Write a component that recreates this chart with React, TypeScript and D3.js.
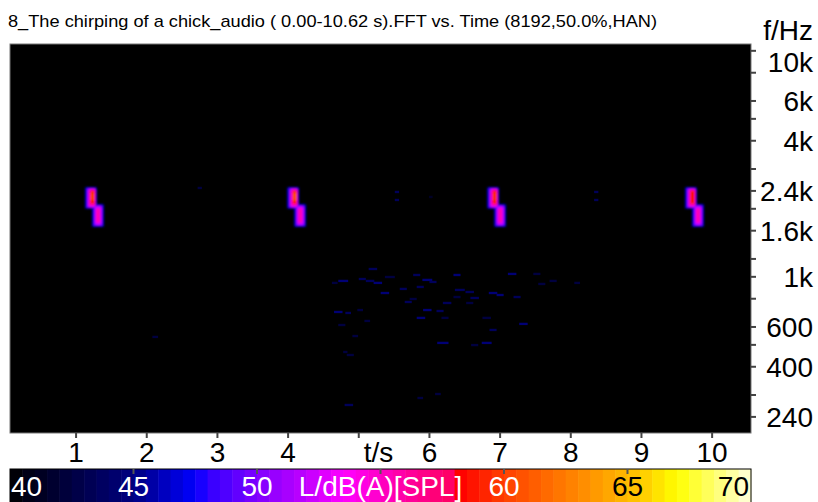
import React, { useEffect, useRef } from 'react';
import * as d3 from 'd3';

const title = '8_The chirping of a chick_audio ( 0.00-10.62 s).FFT vs. Time (8192,50.0%,HAN)';

const timeTicks = [1, 2, 3, 4, 5, 6, 7, 8, 9, 10];
const timeLabels = ['1', '2', '3', '4', 't/s', '6', '7', '8', '9', '10'];

const freqTicks = [10000, 8000, 6000, 5000, 4000, 3000, 2400, 2000, 1600, 1200, 1000, 800, 600, 500, 400, 300, 240];
const freqLabelValues = [10000, 6000, 4000, 2400, 1600, 1000, 600, 400, 240];
const freqLabels = ['10k', '6k', '4k', '2.4k', '1.6k', '1k', '600', '400', '240'];

const levelTicks = [40, 45, 50, 55, 60, 65, 70];
const levelLabels = ['40', '45', '50', 'L/dB(A)[SPL]', '60', '65', '70'];

// colour map of the level scale
const cmapLevels = [40, 40.6, 45, 47.5, 48, 50, 52, 53.5, 56, 58, 58.2, 60, 62, 64, 65.5, 67, 69, 70];
const cmapColors = ['#000000', '#000012', '#000080', '#0000ff', '#3000ff', '#8000ff', '#c000ff', '#ff00ff',
  '#ff00a0', '#ff0060', '#ff0000', '#ff4000', '#ff7000', '#ffa000', '#ffc800', '#ffff00', '#ffff90', '#ffffe0'];

// chirps: start time (s) and peak level (dB)
const chirpStarts = [1.14, 4.0, 6.83, 9.63];
const chirpPeaks = [60, 61, 59.5, 58.5];
// one chirp: [dt start, dt end, f low, f high, level], level null = peak
const chirpShape: [number, number, number, number, number | null][] = [
  [-0.014, 0.156, 2000, 2495, 46.5],
  [0.085, 0.255, 1660, 2100, 46.5],
  [0.007, 0.14, 2020, 2475, 48.5],
  [0.106, 0.233, 1680, 2070, 48.5],
  [0.028, 0.134, 2030, 2455, 52.5],
  [0.127, 0.22, 1700, 2055, 52.5],
  [0.045, 0.13, 2060, 2440, 55.5],
  [0.145, 0.2, 1740, 2010, 55.5],
  [0.062, 0.125, 2100, 2410, 58.5],
  [0.074, 0.116, 2170, 2370, null],
];

// faint background noise: [t centre, f, duration, level]
const noise = [
  [5.2, 1083, 0.12, 44], [4.78, 959, 0.14, 45], [5.05, 978, 0.1, 44], [5.16, 959, 0.12, 44],
  [5.27, 940, 0.12, 45], [5.44, 998, 0.14, 43], [5.82, 1019, 0.1, 44], [5.97, 969, 0.14, 45],
  [6.05, 949, 0.1, 44], [6.39, 1019, 0.1, 45], [7.17, 1030, 0.12, 45], [7.52, 1030, 0.1, 43],
  [7.75, 959, 0.1, 43], [5.37, 848, 0.12, 45], [5.63, 884, 0.1, 44], [5.87, 902, 0.1, 44],
  [6.43, 875, 0.14, 44], [6.57, 857, 0.12, 44], [6.9, 848, 0.12, 45], [7.0, 831, 0.1, 45],
  [7.24, 814, 0.1, 44], [5.7, 774, 0.1, 44], [5.77, 798, 0.1, 43], [6.25, 766, 0.12, 44],
  [6.39, 814, 0.1, 43], [6.57, 766, 0.1, 43], [6.64, 806, 0.12, 44], [4.71, 699, 0.12, 45],
  [4.85, 692, 0.08, 44], [5.97, 713, 0.12, 45], [6.15, 706, 0.1, 44], [5.02, 713, 0.08, 43],
  [5.88, 658, 0.12, 45], [6.22, 658, 0.1, 43], [6.81, 658, 0.12, 43], [7.33, 619, 0.12, 45],
  [6.9, 582, 0.1, 44], [4.76, 612, 0.1, 43], [5.12, 638, 0.08, 43], [4.95, 547, 0.08, 43],
  [6.19, 510, 0.16, 45], [6.81, 510, 0.14, 45], [4.88, 451, 0.1, 43], [6.64, 499, 0.1, 43],
  [4.86, 271, 0.12, 44], [6.12, 303, 0.08, 43], [5.87, 291, 0.08, 43], [4.66, 940, 0.08, 43],
  [8.09, 940, 0.08, 43], [7.59, 930, 0.1, 43], [2.12, 542, 0.08, 43], [4.81, 465, 0.06, 43],
  [2.75, 2473, 0.06, 43], [5.54, 2374, 0.06, 44], [5.54, 2188, 0.06, 44], [6.02, 2256, 0.05, 42],
  [8.36, 2374, 0.06, 44], [8.36, 2188, 0.06, 44],
];

const font = 'Liberation Sans, Arial, sans-serif';

export default function App() {
  const ref = useRef<SVGSVGElement>(null);

  useEffect(() => {
    const svg = d3.select(ref.current);
    svg.selectAll('*').remove();

    const width = 818;
    const height = 502;
    const plot = { left: 10, right: 751, top: 44, bottom: 433 };

    const x = d3.scaleLinear().domain([0.065, 10.55]).range([plot.left, plot.right]);
    const y = d3.scaleLog().domain([203.7, 10720]).range([plot.bottom, plot.top]);
    const lx = d3.scaleLinear().domain([40, 70]).range([plot.left, plot.right]);
    const color = d3.scaleLinear<string>().domain(cmapLevels).range(cmapColors)
      .interpolate(d3.interpolateRgb).clamp(true);

    svg.attr('width', width).attr('height', height);

    const defs = svg.append('defs');
    defs.append('filter').attr('id', 'blurA').attr('x', '-50%').attr('y', '-50%')
      .attr('width', '200%').attr('height', '200%')
      .append('feGaussianBlur').attr('stdDeviation', 0.8);
    defs.append('filter').attr('id', 'blurB').attr('x', '-50%').attr('y', '-50%')
      .attr('width', '200%').attr('height', '200%')
      .append('feGaussianBlur').attr('stdDeviation', 0.7);
    defs.append('clipPath').attr('id', 'plotClip').append('rect')
      .attr('x', plot.left).attr('y', plot.top)
      .attr('width', plot.right - plot.left).attr('height', plot.bottom - plot.top);

    svg.append('rect').attr('width', width).attr('height', height).attr('fill', '#fff');

    // title
    svg.append('text').attr('x', 8).attr('y', 27)
      .attr('font-family', font).attr('font-size', 17)
      .attr('textLength', 649).attr('lengthAdjust', 'spacingAndGlyphs')
      .text(title);

    // spectrogram background
    svg.append('rect')
      .attr('x', plot.left).attr('y', plot.top)
      .attr('width', plot.right - plot.left).attr('height', plot.bottom - plot.top)
      .attr('fill', '#000');

    const spec = svg.append('g').attr('clip-path', 'url(#plotClip)');

    spec.append('g').attr('filter', 'url(#blurB)')
      .selectAll('rect')
      .data(noise)
      .join('rect')
      .attr('x', (d) => x(d[0] - d[2] / 2))
      .attr('width', (d) => x(d[0] + d[2] / 2) - x(d[0] - d[2] / 2))
      .attr('y', (d) => y(d[1] * 1.012))
      .attr('height', (d) => y(d[1] / 1.012) - y(d[1] * 1.012))
      .attr('fill', (d) => color(d[3] - 0.5));

    const cells = chirpStarts.flatMap((t0, i) =>
      chirpShape.map((c) => ({ t0: t0 + c[0], t1: t0 + c[1], f0: c[2], f1: c[3], level: c[4] ?? chirpPeaks[i] })));

    spec.append('g').attr('filter', 'url(#blurA)')
      .selectAll('rect')
      .data(cells)
      .join('rect')
      .attr('x', (d) => x(d.t0))
      .attr('width', (d) => x(d.t1) - x(d.t0))
      .attr('y', (d) => y(d.f1))
      .attr('height', (d) => y(d.f0) - y(d.f1))
      .attr('rx', 1.5)
      .attr('fill', (d) => color(d.level));

    svg.append('rect')
      .attr('x', plot.left).attr('y', plot.top)
      .attr('width', plot.right - plot.left).attr('height', plot.bottom - plot.top)
      .attr('fill', 'none').attr('stroke', '#777').attr('stroke-width', 1);

    // frequency axis (right)
    svg.append('g').selectAll('line')
      .data(freqTicks)
      .join('line')
      .attr('x1', plot.right).attr('x2', plot.right + 5)
      .attr('y1', (d) => y(d)).attr('y2', (d) => y(d))
      .attr('stroke', '#444').attr('stroke-width', 2);

    svg.append('g').selectAll('text')
      .data(freqLabelValues)
      .join('text')
      .attr('x', 813)
      .attr('y', (d) => Math.max(y(d) + 10, 72))
      .attr('text-anchor', 'end')
      .attr('font-family', font).attr('font-size', 28)
      .text((d, i) => freqLabels[i]);

    svg.append('text').attr('x', 813).attr('y', 40)
      .attr('text-anchor', 'end')
      .attr('font-family', font).attr('font-size', 28)
      .text('f/Hz');

    // time axis (bottom)
    svg.append('g').selectAll('line')
      .data(timeTicks)
      .join('line')
      .attr('x1', (d) => x(d)).attr('x2', (d) => x(d))
      .attr('y1', plot.bottom).attr('y2', plot.bottom + 5)
      .attr('stroke', '#444').attr('stroke-width', 2);

    svg.append('g').selectAll('text')
      .data(timeTicks)
      .join('text')
      .attr('x', (d, i) => (timeLabels[i] === 't/s' ? x(d) + 5 : x(d)))
      .attr('y', 462)
      .attr('text-anchor', (d, i) => (timeLabels[i] === 't/s' ? 'start' : 'middle'))
      .attr('font-family', font).attr('font-size', 28)
      .text((d, i) => timeLabels[i]);

    // colour bar
    const cbTop = 469;
    const bands = d3.range(40, 70, 0.5);
    svg.append('g').selectAll('rect')
      .data(bands)
      .join('rect')
      .attr('x', (d) => lx(d))
      .attr('width', (d) => lx(d + 0.5) - lx(d) + 0.5)
      .attr('y', cbTop)
      .attr('height', height - cbTop + 2)
      .attr('fill', (d) => color(d + 0.25));

    svg.append('rect')
      .attr('x', lx(40)).attr('y', cbTop)
      .attr('width', lx(70) - lx(40)).attr('height', height - cbTop + 2)
      .attr('fill', 'none').attr('stroke', '#000').attr('stroke-width', 1);

    svg.append('g').selectAll('line')
      .data(levelTicks.slice(1, -1))
      .join('line')
      .attr('x1', (d) => lx(d)).attr('x2', (d) => lx(d))
      .attr('y1', cbTop).attr('y2', cbTop + 5)
      .attr('stroke', '#555').attr('stroke-width', 2);

    svg.append('g').selectAll('text')
      .data(levelTicks)
      .join('text')
      .attr('x', (d, i) => (i === 0 ? lx(d) + 1 : i === levelTicks.length - 1 ? lx(d) - 2 : lx(d)))
      .attr('y', 496)
      .attr('text-anchor', (d, i) => (i === 0 ? 'start' : i === levelTicks.length - 1 ? 'end' : 'middle'))
      .attr('font-family', font).attr('font-size', 28)
      .attr('fill', (d) => (d >= 65 ? '#000' : '#fff'))
      .text((d, i) => levelLabels[i]);
  }, []);

  return <svg ref={ref} style={{ position: 'absolute', left: 0, top: 0 }}></svg>;
}
